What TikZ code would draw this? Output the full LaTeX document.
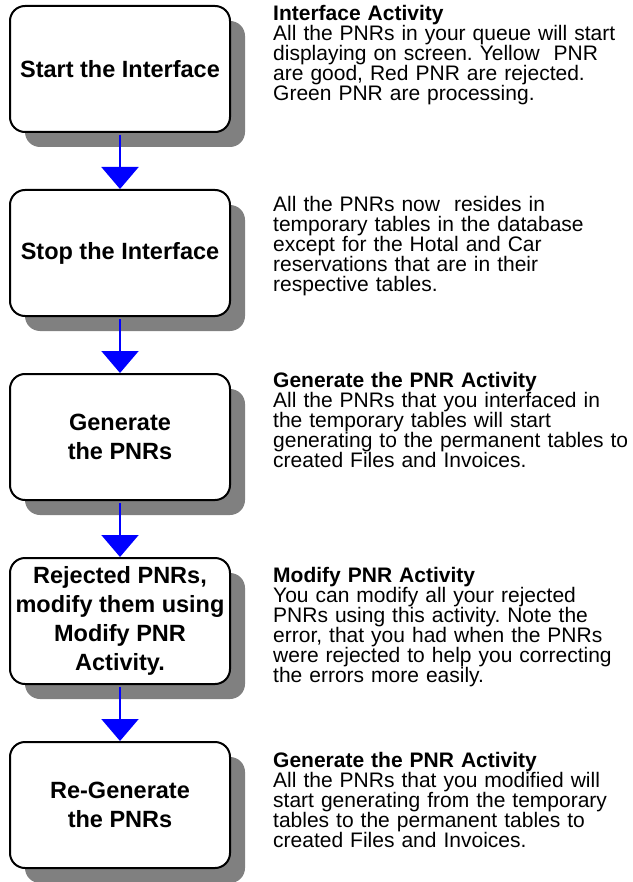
\documentclass[tikz,border=0pt]{standalone}
\usepackage{fontspec}
\setmainfont{Liberation Sans}
\usetikzlibrary{arrows.meta,shadows}
\frenchspacing

\tikzset{
  stepbox/.style={draw, line width=2pt, rounded corners=15pt, fill=white,
    minimum width=220pt, minimum height=126pt, inner sep=0pt, align=center,
    font=\fontsize{23.5}{29}\selectfont\bfseries,
    drop shadow={shadow xshift=15pt, shadow yshift=-15pt, fill=gray, opacity=1}},
  flow/.style={blue, line width=2pt, shorten <=2pt,
    -{Triangle[width=37pt, length=22pt]}},
  note/.style={anchor=base west, text width=360pt, align=left, inner sep=0pt,
    font=\fontsize{21}{20}\selectfont}
}

\begin{document}
\begin{tikzpicture}[x=1pt, y=1pt]

    \useasboundingbox (0, 0) rectangle (632, -882);

    % 1. Các bước bên trái
    \node[stepbox] (B1) at (120, -69)  {Start the Interface};
    \node[stepbox] (B2) at (120, -253) {Stop the Interface};
    \node[stepbox] (B3) at (120, -437) {Generate\\the PNRs};
    \node[stepbox] (B4) at (120, -621) {Rejected PNRs,\\modify them using\\Modify PNR\\Activity.};
    \node[stepbox] (B5) at (120, -805) {Re-Generate\\the PNRs};

    % 2. Mũi tên nối các bước
    \draw[flow] (B1.south) -- (B2.north);
    \draw[flow] (B2.south) -- (B3.north);
    \draw[flow] (B3.south) -- (B4.north);
    \draw[flow] (B4.south) -- (B5.north);

    % 3. Ghi chú bên phải
    \node[note] (N1) at (273, -21) {\textbf{Interface Activity}\\
      All the PNRs in your queue will start\\
      displaying on screen. Yellow \ PNR\\
      are good, Red PNR are rejected.\\
      Green PNR are processing.};
    \node[note] (N2) at (273, -212) {All the PNRs now \ resides in\\
      temporary tables in the database\\
      except for the Hotal and Car\\
      reservations that are in their\\
      respective tables.};
    \node[note] (N3) at (273, -387) {\textbf{Generate the PNR Activity}\\
      All the PNRs that you interfaced in\\
      the temporary tables will start\\
      generating to the permanent tables to\\
      created Files and Invoices.};
    \node[note] (N4) at (273, -582) {\textbf{Modify PNR Activity}\\
      You can modify all your rejected\\
      PNRs using this activity. Note the\\
      error, that you had when the PNRs\\
      were rejected to help you correcting\\
      the errors more easily.};
    \node[note] (N5) at (273, -767) {\textbf{Generate the PNR Activity}\\
      All the PNRs that you modified will\\
      start generating from the temporary\\
      tables to the permanent tables to\\
      created Files and Invoices.};

\end{tikzpicture}
\end{document}
